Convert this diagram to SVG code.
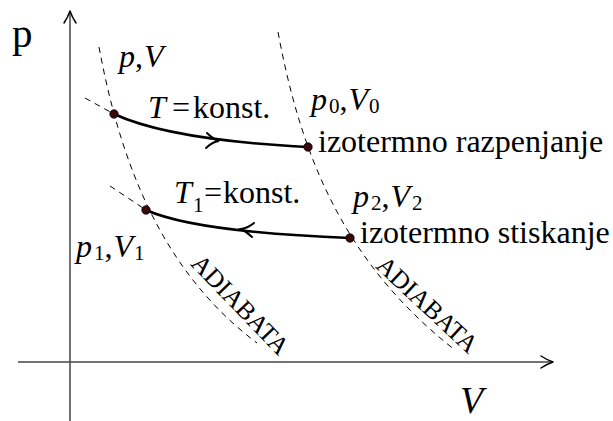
<svg xmlns="http://www.w3.org/2000/svg" width="613" height="421" viewBox="0 0 613 421">
<style>
.axis{stroke:#444;stroke-width:1.5;fill:none}
.ah{stroke:#000;stroke-width:1.5;fill:none;stroke-linecap:round;stroke-linejoin:round}
.dash{stroke:#000;stroke-width:1;fill:none;stroke-dasharray:6 5}
.iso{stroke:#000;stroke-width:2.6;fill:none}
.iah{stroke:#000;stroke-width:2;fill:none;stroke-linecap:round}
.dot{fill:#3a0808;stroke:#000;stroke-width:0.8}
text{font-family:"Liberation Serif","Times New Roman",serif;fill:#000}
.lbl{font-size:32px}
.it{font-style:italic}
.sub{font-size:21px}
.adia{font-size:25.5px}
</style>
<rect width="613" height="421" fill="#fff"/>
<g id="axes">
<line class="axis" x1="70" y1="421" x2="70" y2="12"/>
<path class="ah" d="M64,23 Q68,17 70,11 Q72,17 76,23"/>
<line class="axis" x1="18" y1="362" x2="552" y2="362"/>
<path class="ah" d="M541,356 Q547,360 553,362 Q547,364 541,368"/>
<text x="12" y="47" style="font-size:41px">p</text>
<text x="460" y="413" class="it" style="font-size:38px">V</text>
</g>
<g id="connectors">
<path class="dash" d="M99,47 C120,160 160,270 257,343"/>
<path class="dash" d="M278,32 C300,150 340,260 455,350"/>
<line class="dash" x1="85" y1="98" x2="114" y2="114"/>
<line class="dash" x1="110" y1="186" x2="146" y2="210"/>
<path class="iso" d="M114,114 Q170,140 308,147"/>
<path class="iah" d="M207,133 Q213,139 219,141 Q212,142 206,148"/>
<path class="iso" d="M350,238 Q195,232 146,210"/>
<path class="iah" d="M254,223 Q248,228 241,229 Q247,232 252,237"/>
</g>
<g id="n-pV">
<circle class="dot" cx="114" cy="114" r="4.2"/>
<text class="lbl" x="119" y="67"><tspan class="it">p</tspan><tspan>,</tspan><tspan dx="1" class="it">V</tspan></text>
</g>
<g id="n-p0V0">
<circle class="dot" cx="308" cy="147" r="4.2"/>
<text class="lbl" x="311" y="110"><tspan class="it">p</tspan><tspan dx="2" dy="3" class="sub">0</tspan><tspan dy="-3">,</tspan><tspan dx="1" class="it">V</tspan><tspan dx="1" dy="3" class="sub">0</tspan></text>
<text class="lbl" x="318" y="152">izotermno razpenjanje</text>
</g>
<g id="n-p2V2">
<circle class="dot" cx="350" cy="238" r="4.2"/>
<text class="lbl" x="353" y="207"><tspan class="it">p</tspan><tspan dx="2" dy="3" class="sub">2</tspan><tspan dy="-3">,</tspan><tspan dx="1" class="it">V</tspan><tspan dx="2" dy="3" class="sub">2</tspan></text>
<text class="lbl" x="360" y="243">izotermno stiskanje</text>
</g>
<g id="n-p1V1">
<circle class="dot" cx="146" cy="210" r="4.2"/>
<text class="lbl" x="76" y="257"><tspan class="it">p</tspan><tspan dx="2" dy="3" class="sub">1</tspan><tspan dy="-3">,</tspan><tspan dx="1" class="it">V</tspan><tspan dx="1" dy="3" class="sub">1</tspan></text>
</g>
<g id="labels">
<text class="lbl" x="148" y="118"><tspan class="it">T</tspan><tspan x="172">=</tspan><tspan x="193">konst.</tspan></text>
<text class="lbl" x="174" y="203"><tspan class="it">T</tspan><tspan x="193" y="212" class="sub">1</tspan><tspan x="204" y="203">=</tspan><tspan x="223">konst.</tspan></text>
<text class="adia" transform="translate(240,305) rotate(46)" x="0" y="8" text-anchor="middle">ADIABATA</text>
<text class="adia" transform="translate(427,305) rotate(43)" x="0" y="8" text-anchor="middle">ADIABATA</text>
</g>
</svg>
